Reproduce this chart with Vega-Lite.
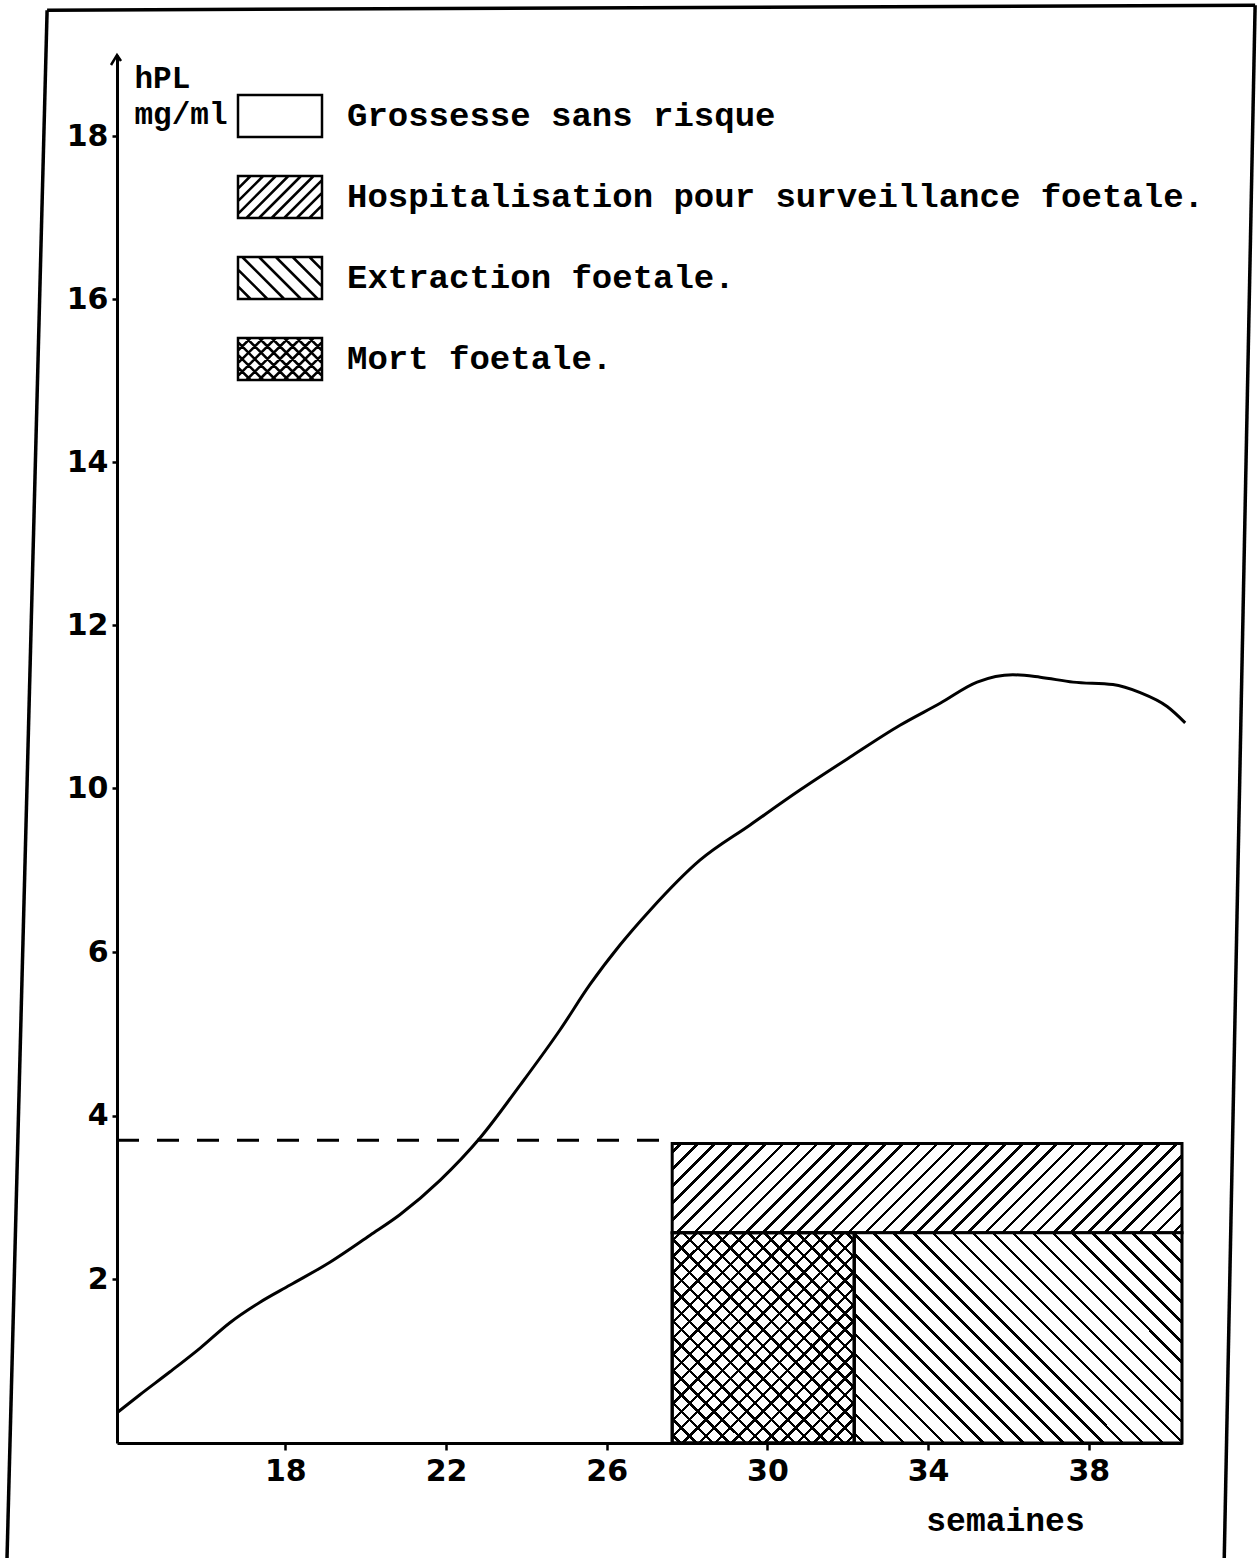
{
"$schema": "https://vega.github.io/schema/vega-lite/v6.json",
"width": 1065,
"height": 1388,
"autosize": {"type": "none"},
"padding": {"left": 117, "top": 55, "right": 76, "bottom": 115},
"background": "white",
"config": {"view": {"stroke": null}, "axis": {"grid": false, "domainColor": "black", "tickColor": "black", "labelColor": "black", "titleColor": "black"}},
"datasets": {
"courbe": [
{"semaine": 13.81, "hPL": 0.37}, {"semaine": 14.38, "hPL": 0.59}, {"semaine": 15.13, "hPL": 0.87}, {"semaine": 15.88, "hPL": 1.16},
{"semaine": 16.62, "hPL": 1.47}, {"semaine": 17.37, "hPL": 1.72}, {"semaine": 18.12, "hPL": 1.93}, {"semaine": 19.11, "hPL": 2.21},
{"semaine": 20.11, "hPL": 2.54}, {"semaine": 20.85, "hPL": 2.79}, {"semaine": 21.85, "hPL": 3.21}, {"semaine": 22.85, "hPL": 3.73},
{"semaine": 23.84, "hPL": 4.37}, {"semaine": 24.84, "hPL": 5.05}, {"semaine": 25.58, "hPL": 5.6}, {"semaine": 26.33, "hPL": 6.17},
{"semaine": 27.08, "hPL": 7.02}, {"semaine": 28.32, "hPL": 8.24}, {"semaine": 29.57, "hPL": 9.1}, {"semaine": 30.81, "hPL": 9.95},
{"semaine": 32.06, "hPL": 10.38}, {"semaine": 33.3, "hPL": 10.77}, {"semaine": 34.3, "hPL": 11.04}, {"semaine": 35.22, "hPL": 11.3},
{"semaine": 36.11, "hPL": 11.39}, {"semaine": 36.79, "hPL": 11.36}, {"semaine": 37.61, "hPL": 11.3}, {"semaine": 38.6, "hPL": 11.27},
{"semaine": 39.28, "hPL": 11.17}, {"semaine": 39.95, "hPL": 11.0}, {"semaine": 40.4, "hPL": 10.8}
],
"zones": [
{"categorie": "Hospitalisation pour surveillance foetale.", "debut": 27.63, "fin": 40.32, "bas": 2.57, "haut": 3.66},
{"categorie": "Mort foetale.", "debut": 27.63, "fin": 32.16, "bas": 0, "haut": 2.57},
{"categorie": "Extraction foetale.", "debut": 32.16, "fin": 40.32, "bas": 0, "haut": 2.57}
],
"seuil": [
{"debut": 13.81, "fin": 27.63, "hPL": 3.7}
],
"categories": [
{"categorie": "Grossesse sans risque"},
{"categorie": "Hospitalisation pour surveillance foetale."},
{"categorie": "Extraction foetale."},
{"categorie": "Mort foetale."}
]
},
"layer": [
{
"data": {"name": "courbe"},
"mark": {"type": "line", "interpolate": "monotone", "color": "black", "strokeWidth": 3},
"encoding": {
"x": {"field": "semaine", "type": "quantitative",
"scale": {"domain": [13.81, 40.32], "nice": false, "zero": false},
"axis": {"values": [18, 22, 26, 30, 34, 38], "format": "d", "title": "semaines", "titleFont": "Liberation Mono", "titleFontSize": 33, "titleFontWeight": "bold", "titleX": 888, "titleY": 87, "titleAlign": "center", "titleBaseline": "alphabetic", "labelFont": "DejaVu Sans", "labelFontWeight": "bold", "labelFontSize": 30, "labelDx": 12, "labelPadding": 6, "tickSize": 7, "tickWidth": 2.5, "domainWidth": 3, "labelFlush": false, "labelOverlap": false}},
"y": {"field": "hPL", "type": "quantitative",
"scale": {"domain": [0, 6, 10, 19], "range": [1388, 897, 733, 0], "nice": false, "zero": false},
"axis": {"values": [2, 4, 6, 10, 12, 14, 16, 18], "format": "d", "title": ["hPL", "mg/ml"], "titleAngle": 0, "titleFont": "Liberation Mono", "titleFontSize": 31, "titleFontWeight": "bold", "titleX": 17, "titleY": 32, "titleAlign": "left", "titleBaseline": "alphabetic", "titleLineHeight": 36, "labelFont": "DejaVu Sans", "labelFontWeight": "bold", "labelFontSize": 30, "labelPadding": 4, "labelDy": -3, "tickSize": 5, "tickWidth": 2.5, "domainWidth": 3, "labelOverlap": false, "labelFlush": false}}
}
},
{
"data": {"values": [{}]},
"mark": {"type": "rule", "color": "black", "strokeWidth": 3.5},
"encoding": {"x": {"datum": 12.07}, "x2": {"datum": 11.07}, "y": {"datum": 19.55}, "y2": {"datum": -1.45}}
},
{
"data": {"values": [{}]},
"mark": {"type": "rule", "color": "black", "strokeWidth": 3.5},
"encoding": {"x": {"datum": 12.07}, "x2": {"datum": 42.14}, "y": {"datum": 19.55}, "y2": {"datum": 19.61}}
},
{
"data": {"values": [{}]},
"mark": {"type": "rule", "color": "black", "strokeWidth": 3.5},
"encoding": {"x": {"datum": 42.14}, "x2": {"datum": 41.37}, "y": {"datum": 19.61}, "y2": {"datum": -1.45}}
},
{
"data": {"name": "zones"},
"transform": [{"filter": "datum.categorie === 'Hospitalisation pour surveillance foetale.'"}],
"mark": {"type": "rect", "stroke": "black", "strokeWidth": 3,
"fill": {"gradient": "linear", "x1": 0, "y1": 0, "x2": 1.14006, "y2": 0.19948, "stops": [
{"offset":0.0113,"color":"#fff"},{"offset":0.0113,"color":"#000"},{"offset":0.0173,"color":"#000"},{"offset":0.0173,"color":"#fff"},
{"offset":0.0399,"color":"#fff"},{"offset":0.0399,"color":"#000"},{"offset":0.0459,"color":"#000"},{"offset":0.0459,"color":"#fff"},
{"offset":0.0684,"color":"#fff"},{"offset":0.0684,"color":"#000"},{"offset":0.0744,"color":"#000"},{"offset":0.0744,"color":"#fff"},
{"offset":0.0970,"color":"#fff"},{"offset":0.0970,"color":"#000"},{"offset":0.1030,"color":"#000"},{"offset":0.1030,"color":"#fff"},
{"offset":0.1256,"color":"#fff"},{"offset":0.1256,"color":"#000"},{"offset":0.1316,"color":"#000"},{"offset":0.1316,"color":"#fff"},
{"offset":0.1541,"color":"#fff"},{"offset":0.1541,"color":"#000"},{"offset":0.1601,"color":"#000"},{"offset":0.1601,"color":"#fff"},
{"offset":0.1827,"color":"#fff"},{"offset":0.1827,"color":"#000"},{"offset":0.1887,"color":"#000"},{"offset":0.1887,"color":"#fff"},
{"offset":0.2113,"color":"#fff"},{"offset":0.2113,"color":"#000"},{"offset":0.2173,"color":"#000"},{"offset":0.2173,"color":"#fff"},
{"offset":0.2399,"color":"#fff"},{"offset":0.2399,"color":"#000"},{"offset":0.2459,"color":"#000"},{"offset":0.2459,"color":"#fff"},
{"offset":0.2684,"color":"#fff"},{"offset":0.2684,"color":"#000"},{"offset":0.2744,"color":"#000"},{"offset":0.2744,"color":"#fff"},
{"offset":0.2970,"color":"#fff"},{"offset":0.2970,"color":"#000"},{"offset":0.3030,"color":"#000"},{"offset":0.3030,"color":"#fff"},
{"offset":0.3256,"color":"#fff"},{"offset":0.3256,"color":"#000"},{"offset":0.3316,"color":"#000"},{"offset":0.3316,"color":"#fff"},
{"offset":0.3541,"color":"#fff"},{"offset":0.3541,"color":"#000"},{"offset":0.3601,"color":"#000"},{"offset":0.3601,"color":"#fff"},
{"offset":0.3827,"color":"#fff"},{"offset":0.3827,"color":"#000"},{"offset":0.3887,"color":"#000"},{"offset":0.3887,"color":"#fff"},
{"offset":0.4113,"color":"#fff"},{"offset":0.4113,"color":"#000"},{"offset":0.4173,"color":"#000"},{"offset":0.4173,"color":"#fff"},
{"offset":0.4399,"color":"#fff"},{"offset":0.4399,"color":"#000"},{"offset":0.4459,"color":"#000"},{"offset":0.4459,"color":"#fff"},
{"offset":0.4684,"color":"#fff"},{"offset":0.4684,"color":"#000"},{"offset":0.4744,"color":"#000"},{"offset":0.4744,"color":"#fff"},
{"offset":0.4970,"color":"#fff"},{"offset":0.4970,"color":"#000"},{"offset":0.5030,"color":"#000"},{"offset":0.5030,"color":"#fff"},
{"offset":0.5256,"color":"#fff"},{"offset":0.5256,"color":"#000"},{"offset":0.5316,"color":"#000"},{"offset":0.5316,"color":"#fff"},
{"offset":0.5541,"color":"#fff"},{"offset":0.5541,"color":"#000"},{"offset":0.5601,"color":"#000"},{"offset":0.5601,"color":"#fff"},
{"offset":0.5827,"color":"#fff"},{"offset":0.5827,"color":"#000"},{"offset":0.5887,"color":"#000"},{"offset":0.5887,"color":"#fff"},
{"offset":0.6113,"color":"#fff"},{"offset":0.6113,"color":"#000"},{"offset":0.6173,"color":"#000"},{"offset":0.6173,"color":"#fff"},
{"offset":0.6399,"color":"#fff"},{"offset":0.6399,"color":"#000"},{"offset":0.6459,"color":"#000"},{"offset":0.6459,"color":"#fff"},
{"offset":0.6684,"color":"#fff"},{"offset":0.6684,"color":"#000"},{"offset":0.6744,"color":"#000"},{"offset":0.6744,"color":"#fff"},
{"offset":0.6970,"color":"#fff"},{"offset":0.6970,"color":"#000"},{"offset":0.7030,"color":"#000"},{"offset":0.7030,"color":"#fff"},
{"offset":0.7256,"color":"#fff"},{"offset":0.7256,"color":"#000"},{"offset":0.7316,"color":"#000"},{"offset":0.7316,"color":"#fff"},
{"offset":0.7541,"color":"#fff"},{"offset":0.7541,"color":"#000"},{"offset":0.7601,"color":"#000"},{"offset":0.7601,"color":"#fff"},
{"offset":0.7827,"color":"#fff"},{"offset":0.7827,"color":"#000"},{"offset":0.7887,"color":"#000"},{"offset":0.7887,"color":"#fff"},
{"offset":0.8113,"color":"#fff"},{"offset":0.8113,"color":"#000"},{"offset":0.8173,"color":"#000"},{"offset":0.8173,"color":"#fff"},
{"offset":0.8399,"color":"#fff"},{"offset":0.8399,"color":"#000"},{"offset":0.8459,"color":"#000"},{"offset":0.8459,"color":"#fff"},
{"offset":0.8684,"color":"#fff"},{"offset":0.8684,"color":"#000"},{"offset":0.8744,"color":"#000"},{"offset":0.8744,"color":"#fff"},
{"offset":0.8970,"color":"#fff"},{"offset":0.8970,"color":"#000"},{"offset":0.9030,"color":"#000"},{"offset":0.9030,"color":"#fff"},
{"offset":0.9256,"color":"#fff"},{"offset":0.9256,"color":"#000"},{"offset":0.9316,"color":"#000"},{"offset":0.9316,"color":"#fff"},
{"offset":0.9541,"color":"#fff"},{"offset":0.9541,"color":"#000"},{"offset":0.9601,"color":"#000"},{"offset":0.9601,"color":"#fff"},
{"offset":0.9827,"color":"#fff"},{"offset":0.9827,"color":"#000"},{"offset":0.9887,"color":"#000"},{"offset":0.9887,"color":"#fff"}
]}},
"encoding": {"x": {"field": "debut", "type": "quantitative"}, "x2": {"field": "fin"}, "y": {"field": "bas", "type": "quantitative"}, "y2": {"field": "haut"}}
},
{
"data": {"name": "zones"},
"transform": [{"filter": "datum.categorie === 'Extraction foetale.'"}],
"mark": {"type": "rect", "stroke": "black", "strokeWidth": 3,
"fill": {"gradient": "linear", "x1": 0, "y1": 1, "x2": 1.163, "y2": 0.25411, "stops": [
{"offset":0.0152,"color":"#fff"},{"offset":0.0152,"color":"#000"},{"offset":0.0218,"color":"#000"},{"offset":0.0218,"color":"#fff"},
{"offset":0.0523,"color":"#fff"},{"offset":0.0523,"color":"#000"},{"offset":0.0589,"color":"#000"},{"offset":0.0589,"color":"#fff"},
{"offset":0.0893,"color":"#fff"},{"offset":0.0893,"color":"#000"},{"offset":0.0959,"color":"#000"},{"offset":0.0959,"color":"#fff"},
{"offset":0.1263,"color":"#fff"},{"offset":0.1263,"color":"#000"},{"offset":0.1329,"color":"#000"},{"offset":0.1329,"color":"#fff"},
{"offset":0.1634,"color":"#fff"},{"offset":0.1634,"color":"#000"},{"offset":0.1700,"color":"#000"},{"offset":0.1700,"color":"#fff"},
{"offset":0.2004,"color":"#fff"},{"offset":0.2004,"color":"#000"},{"offset":0.2070,"color":"#000"},{"offset":0.2070,"color":"#fff"},
{"offset":0.2374,"color":"#fff"},{"offset":0.2374,"color":"#000"},{"offset":0.2440,"color":"#000"},{"offset":0.2440,"color":"#fff"},
{"offset":0.2745,"color":"#fff"},{"offset":0.2745,"color":"#000"},{"offset":0.2811,"color":"#000"},{"offset":0.2811,"color":"#fff"},
{"offset":0.3115,"color":"#fff"},{"offset":0.3115,"color":"#000"},{"offset":0.3181,"color":"#000"},{"offset":0.3181,"color":"#fff"},
{"offset":0.3486,"color":"#fff"},{"offset":0.3486,"color":"#000"},{"offset":0.3552,"color":"#000"},{"offset":0.3552,"color":"#fff"},
{"offset":0.3856,"color":"#fff"},{"offset":0.3856,"color":"#000"},{"offset":0.3922,"color":"#000"},{"offset":0.3922,"color":"#fff"},
{"offset":0.4226,"color":"#fff"},{"offset":0.4226,"color":"#000"},{"offset":0.4292,"color":"#000"},{"offset":0.4292,"color":"#fff"},
{"offset":0.4597,"color":"#fff"},{"offset":0.4597,"color":"#000"},{"offset":0.4663,"color":"#000"},{"offset":0.4663,"color":"#fff"},
{"offset":0.4967,"color":"#fff"},{"offset":0.4967,"color":"#000"},{"offset":0.5033,"color":"#000"},{"offset":0.5033,"color":"#fff"},
{"offset":0.5337,"color":"#fff"},{"offset":0.5337,"color":"#000"},{"offset":0.5403,"color":"#000"},{"offset":0.5403,"color":"#fff"},
{"offset":0.5708,"color":"#fff"},{"offset":0.5708,"color":"#000"},{"offset":0.5774,"color":"#000"},{"offset":0.5774,"color":"#fff"},
{"offset":0.6078,"color":"#fff"},{"offset":0.6078,"color":"#000"},{"offset":0.6144,"color":"#000"},{"offset":0.6144,"color":"#fff"},
{"offset":0.6448,"color":"#fff"},{"offset":0.6448,"color":"#000"},{"offset":0.6514,"color":"#000"},{"offset":0.6514,"color":"#fff"},
{"offset":0.6819,"color":"#fff"},{"offset":0.6819,"color":"#000"},{"offset":0.6885,"color":"#000"},{"offset":0.6885,"color":"#fff"},
{"offset":0.7189,"color":"#fff"},{"offset":0.7189,"color":"#000"},{"offset":0.7255,"color":"#000"},{"offset":0.7255,"color":"#fff"},
{"offset":0.7560,"color":"#fff"},{"offset":0.7560,"color":"#000"},{"offset":0.7626,"color":"#000"},{"offset":0.7626,"color":"#fff"},
{"offset":0.7930,"color":"#fff"},{"offset":0.7930,"color":"#000"},{"offset":0.7996,"color":"#000"},{"offset":0.7996,"color":"#fff"},
{"offset":0.8300,"color":"#fff"},{"offset":0.8300,"color":"#000"},{"offset":0.8366,"color":"#000"},{"offset":0.8366,"color":"#fff"},
{"offset":0.8671,"color":"#fff"},{"offset":0.8671,"color":"#000"},{"offset":0.8737,"color":"#000"},{"offset":0.8737,"color":"#fff"},
{"offset":0.9041,"color":"#fff"},{"offset":0.9041,"color":"#000"},{"offset":0.9107,"color":"#000"},{"offset":0.9107,"color":"#fff"},
{"offset":0.9411,"color":"#fff"},{"offset":0.9411,"color":"#000"},{"offset":0.9477,"color":"#000"},{"offset":0.9477,"color":"#fff"},
{"offset":0.9782,"color":"#fff"},{"offset":0.9782,"color":"#000"},{"offset":0.9848,"color":"#000"},{"offset":0.9848,"color":"#fff"}
]}},
"encoding": {"x": {"field": "debut", "type": "quantitative"}, "x2": {"field": "fin"}, "y": {"field": "bas", "type": "quantitative"}, "y2": {"field": "haut"}}
},
{
"data": {"name": "zones"},
"transform": [{"filter": "datum.categorie === 'Mort foetale.'"}],
"mark": {"type": "rect", "stroke": "black", "strokeWidth": 3,
"fill": {"gradient": "linear", "x1": 0, "y1": 0, "x2": 0.92275, "y2": 1.06681, "stops": [
{"offset":0.0163,"color":"#fff"},{"offset":0.0163,"color":"#000"},{"offset":0.0253,"color":"#000"},{"offset":0.0253,"color":"#fff"},
{"offset":0.0580,"color":"#fff"},{"offset":0.0580,"color":"#000"},{"offset":0.0670,"color":"#000"},{"offset":0.0670,"color":"#fff"},
{"offset":0.0997,"color":"#fff"},{"offset":0.0997,"color":"#000"},{"offset":0.1087,"color":"#000"},{"offset":0.1087,"color":"#fff"},
{"offset":0.1413,"color":"#fff"},{"offset":0.1413,"color":"#000"},{"offset":0.1503,"color":"#000"},{"offset":0.1503,"color":"#fff"},
{"offset":0.1830,"color":"#fff"},{"offset":0.1830,"color":"#000"},{"offset":0.1920,"color":"#000"},{"offset":0.1920,"color":"#fff"},
{"offset":0.2247,"color":"#fff"},{"offset":0.2247,"color":"#000"},{"offset":0.2337,"color":"#000"},{"offset":0.2337,"color":"#fff"},
{"offset":0.2663,"color":"#fff"},{"offset":0.2663,"color":"#000"},{"offset":0.2753,"color":"#000"},{"offset":0.2753,"color":"#fff"},
{"offset":0.3080,"color":"#fff"},{"offset":0.3080,"color":"#000"},{"offset":0.3170,"color":"#000"},{"offset":0.3170,"color":"#fff"},
{"offset":0.3497,"color":"#fff"},{"offset":0.3497,"color":"#000"},{"offset":0.3587,"color":"#000"},{"offset":0.3587,"color":"#fff"},
{"offset":0.3913,"color":"#fff"},{"offset":0.3913,"color":"#000"},{"offset":0.4003,"color":"#000"},{"offset":0.4003,"color":"#fff"},
{"offset":0.4330,"color":"#fff"},{"offset":0.4330,"color":"#000"},{"offset":0.4420,"color":"#000"},{"offset":0.4420,"color":"#fff"},
{"offset":0.4747,"color":"#fff"},{"offset":0.4747,"color":"#000"},{"offset":0.4837,"color":"#000"},{"offset":0.4837,"color":"#fff"},
{"offset":0.5163,"color":"#fff"},{"offset":0.5163,"color":"#000"},{"offset":0.5253,"color":"#000"},{"offset":0.5253,"color":"#fff"},
{"offset":0.5580,"color":"#fff"},{"offset":0.5580,"color":"#000"},{"offset":0.5670,"color":"#000"},{"offset":0.5670,"color":"#fff"},
{"offset":0.5997,"color":"#fff"},{"offset":0.5997,"color":"#000"},{"offset":0.6087,"color":"#000"},{"offset":0.6087,"color":"#fff"},
{"offset":0.6413,"color":"#fff"},{"offset":0.6413,"color":"#000"},{"offset":0.6503,"color":"#000"},{"offset":0.6503,"color":"#fff"},
{"offset":0.6830,"color":"#fff"},{"offset":0.6830,"color":"#000"},{"offset":0.6920,"color":"#000"},{"offset":0.6920,"color":"#fff"},
{"offset":0.7247,"color":"#fff"},{"offset":0.7247,"color":"#000"},{"offset":0.7337,"color":"#000"},{"offset":0.7337,"color":"#fff"},
{"offset":0.7663,"color":"#fff"},{"offset":0.7663,"color":"#000"},{"offset":0.7753,"color":"#000"},{"offset":0.7753,"color":"#fff"},
{"offset":0.8080,"color":"#fff"},{"offset":0.8080,"color":"#000"},{"offset":0.8170,"color":"#000"},{"offset":0.8170,"color":"#fff"},
{"offset":0.8497,"color":"#fff"},{"offset":0.8497,"color":"#000"},{"offset":0.8587,"color":"#000"},{"offset":0.8587,"color":"#fff"},
{"offset":0.8913,"color":"#fff"},{"offset":0.8913,"color":"#000"},{"offset":0.9003,"color":"#000"},{"offset":0.9003,"color":"#fff"},
{"offset":0.9330,"color":"#fff"},{"offset":0.9330,"color":"#000"},{"offset":0.9420,"color":"#000"},{"offset":0.9420,"color":"#fff"},
{"offset":0.9747,"color":"#fff"},{"offset":0.9747,"color":"#000"},{"offset":0.9837,"color":"#000"},{"offset":0.9837,"color":"#fff"}
]}},
"encoding": {"x": {"field": "debut", "type": "quantitative"}, "x2": {"field": "fin"}, "y": {"field": "bas", "type": "quantitative"}, "y2": {"field": "haut"}}
},
{
"data": {"name": "zones"},
"transform": [{"filter": "datum.categorie === 'Mort foetale.'"}],
"mark": {"type": "rect", "stroke": "black", "strokeWidth": 3,
"fill": {"gradient": "linear", "x1": 0, "y1": 1, "x2": 0.92275, "y2": -0.06681, "stops": [
{"offset":0.0163,"color":"rgba(0,0,0,0)"},{"offset":0.0163,"color":"#000"},{"offset":0.0253,"color":"#000"},{"offset":0.0253,"color":"rgba(0,0,0,0)"},
{"offset":0.0580,"color":"rgba(0,0,0,0)"},{"offset":0.0580,"color":"#000"},{"offset":0.0670,"color":"#000"},{"offset":0.0670,"color":"rgba(0,0,0,0)"},
{"offset":0.0997,"color":"rgba(0,0,0,0)"},{"offset":0.0997,"color":"#000"},{"offset":0.1087,"color":"#000"},{"offset":0.1087,"color":"rgba(0,0,0,0)"},
{"offset":0.1413,"color":"rgba(0,0,0,0)"},{"offset":0.1413,"color":"#000"},{"offset":0.1503,"color":"#000"},{"offset":0.1503,"color":"rgba(0,0,0,0)"},
{"offset":0.1830,"color":"rgba(0,0,0,0)"},{"offset":0.1830,"color":"#000"},{"offset":0.1920,"color":"#000"},{"offset":0.1920,"color":"rgba(0,0,0,0)"},
{"offset":0.2247,"color":"rgba(0,0,0,0)"},{"offset":0.2247,"color":"#000"},{"offset":0.2337,"color":"#000"},{"offset":0.2337,"color":"rgba(0,0,0,0)"},
{"offset":0.2663,"color":"rgba(0,0,0,0)"},{"offset":0.2663,"color":"#000"},{"offset":0.2753,"color":"#000"},{"offset":0.2753,"color":"rgba(0,0,0,0)"},
{"offset":0.3080,"color":"rgba(0,0,0,0)"},{"offset":0.3080,"color":"#000"},{"offset":0.3170,"color":"#000"},{"offset":0.3170,"color":"rgba(0,0,0,0)"},
{"offset":0.3497,"color":"rgba(0,0,0,0)"},{"offset":0.3497,"color":"#000"},{"offset":0.3587,"color":"#000"},{"offset":0.3587,"color":"rgba(0,0,0,0)"},
{"offset":0.3913,"color":"rgba(0,0,0,0)"},{"offset":0.3913,"color":"#000"},{"offset":0.4003,"color":"#000"},{"offset":0.4003,"color":"rgba(0,0,0,0)"},
{"offset":0.4330,"color":"rgba(0,0,0,0)"},{"offset":0.4330,"color":"#000"},{"offset":0.4420,"color":"#000"},{"offset":0.4420,"color":"rgba(0,0,0,0)"},
{"offset":0.4747,"color":"rgba(0,0,0,0)"},{"offset":0.4747,"color":"#000"},{"offset":0.4837,"color":"#000"},{"offset":0.4837,"color":"rgba(0,0,0,0)"},
{"offset":0.5163,"color":"rgba(0,0,0,0)"},{"offset":0.5163,"color":"#000"},{"offset":0.5253,"color":"#000"},{"offset":0.5253,"color":"rgba(0,0,0,0)"},
{"offset":0.5580,"color":"rgba(0,0,0,0)"},{"offset":0.5580,"color":"#000"},{"offset":0.5670,"color":"#000"},{"offset":0.5670,"color":"rgba(0,0,0,0)"},
{"offset":0.5997,"color":"rgba(0,0,0,0)"},{"offset":0.5997,"color":"#000"},{"offset":0.6087,"color":"#000"},{"offset":0.6087,"color":"rgba(0,0,0,0)"},
{"offset":0.6413,"color":"rgba(0,0,0,0)"},{"offset":0.6413,"color":"#000"},{"offset":0.6503,"color":"#000"},{"offset":0.6503,"color":"rgba(0,0,0,0)"},
{"offset":0.6830,"color":"rgba(0,0,0,0)"},{"offset":0.6830,"color":"#000"},{"offset":0.6920,"color":"#000"},{"offset":0.6920,"color":"rgba(0,0,0,0)"},
{"offset":0.7247,"color":"rgba(0,0,0,0)"},{"offset":0.7247,"color":"#000"},{"offset":0.7337,"color":"#000"},{"offset":0.7337,"color":"rgba(0,0,0,0)"},
{"offset":0.7663,"color":"rgba(0,0,0,0)"},{"offset":0.7663,"color":"#000"},{"offset":0.7753,"color":"#000"},{"offset":0.7753,"color":"rgba(0,0,0,0)"},
{"offset":0.8080,"color":"rgba(0,0,0,0)"},{"offset":0.8080,"color":"#000"},{"offset":0.8170,"color":"#000"},{"offset":0.8170,"color":"rgba(0,0,0,0)"},
{"offset":0.8497,"color":"rgba(0,0,0,0)"},{"offset":0.8497,"color":"#000"},{"offset":0.8587,"color":"#000"},{"offset":0.8587,"color":"rgba(0,0,0,0)"},
{"offset":0.8913,"color":"rgba(0,0,0,0)"},{"offset":0.8913,"color":"#000"},{"offset":0.9003,"color":"#000"},{"offset":0.9003,"color":"rgba(0,0,0,0)"},
{"offset":0.9330,"color":"rgba(0,0,0,0)"},{"offset":0.9330,"color":"#000"},{"offset":0.9420,"color":"#000"},{"offset":0.9420,"color":"rgba(0,0,0,0)"},
{"offset":0.9747,"color":"rgba(0,0,0,0)"},{"offset":0.9747,"color":"#000"},{"offset":0.9837,"color":"#000"},{"offset":0.9837,"color":"rgba(0,0,0,0)"}
]}},
"encoding": {"x": {"field": "debut", "type": "quantitative"}, "x2": {"field": "fin"}, "y": {"field": "bas", "type": "quantitative"}, "y2": {"field": "haut"}}
},
{
"data": {"name": "seuil"},
"mark": {"type": "rule", "color": "black", "strokeWidth": 3, "strokeDash": [22, 18]},
"encoding": {"x": {"field": "debut", "type": "quantitative"}, "x2": {"field": "fin"}, "y": {"field": "hPL", "type": "quantitative"}}
},
{
"data": {"values": [{}]},
"mark": {"type": "point", "shape": "M-0.6,1L0,0L0.4,0.6", "size": 400, "filled": false, "stroke": "black", "strokeWidth": 2.5, "opacity": 1},
"encoding": {"x": {"datum": 13.81}, "y": {"datum": 19}}
},
{
"data": {"name": "categories"},
"mark": {"type": "point", "opacity": 0, "filled": false, "stroke": "black"},
"encoding": {
"shape": {"field": "categorie", "type": "nominal",
"scale": {"domain": ["Grossesse sans risque", "Hospitalisation pour surveillance foetale.", "Extraction foetale.", "Mort foetale."],
"range": [
"M-1,-0.5H1V0.5H-1Z",
"M-1,-0.5H1V0.5H-1ZM-1,-0.2L-0.7,-0.5M-1,0.1L-0.4,-0.5M-1,0.4L-0.1,-0.5M-0.8,0.5L0.2,-0.5M-0.5,0.5L0.5,-0.5M-0.2,0.5L0.8,-0.5M0.1,0.5L1,-0.4M0.4,0.5L1,-0.1M0.7,0.5L1,0.2",
"M-1,-0.5H1V0.5H-1ZM-1,0.2L-0.7,0.5M-1,-0.2L-0.3,0.5M-0.9,-0.5L0.1,0.5M-0.5,-0.5L0.5,0.5M-0.1,-0.5L0.9,0.5M0.3,-0.5L1,0.2M0.7,-0.5L1,-0.2",
"M-1,-0.5H1V0.5H-1ZM-1,-0.2L-0.7,-0.5M-1,0.1L-0.4,-0.5M-1,0.4L-0.1,-0.5M-0.8,0.5L0.2,-0.5M-0.5,0.5L0.5,-0.5M-0.2,0.5L0.8,-0.5M0.1,0.5L1,-0.4M0.4,0.5L1,-0.1M0.7,0.5L1,0.2M-1,0.2L-0.7,0.5M-1,-0.1L-0.4,0.5M-1,-0.4L-0.1,0.5M-0.8,-0.5L0.2,0.5M-0.5,-0.5L0.5,0.5M-0.2,-0.5L0.8,0.5M0.1,-0.5L1,0.4M0.4,-0.5L1,0.1M0.7,-0.5L1,-0.2"
]},
"legend": {"title": null, "orient": "none", "legendX": 119.5, "legendY": 17.5, "direction": "vertical", "symbolSize": 7056, "symbolStrokeWidth": 2.5, "symbolStrokeColor": "black", "symbolFillColor": "white", "symbolOpacity": 1, "labelFont": "Liberation Mono", "labelFontSize": 34, "labelFontWeight": "bold", "labelColor": "black", "labelOffset": 23.5, "labelLimit": 1200, "rowPadding": 11, "padding": 0, "offset": 0}}
}
}
]
}
